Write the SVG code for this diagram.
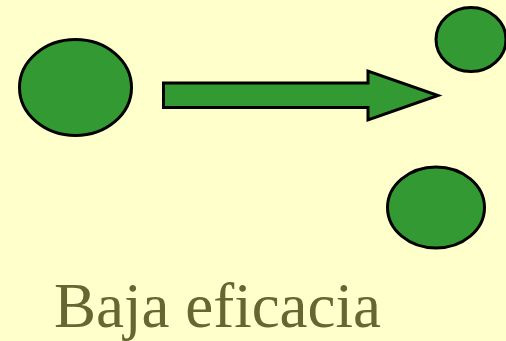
<svg xmlns="http://www.w3.org/2000/svg" width="506" height="341" viewBox="0 0 506 341">
<style>
.n{fill:#339933;stroke:#000;stroke-width:3}
.t{font-family:"Liberation Serif",serif;font-size:63px;fill:#666633}
</style>
<rect width="506" height="341" fill="#FFFFCC"/>
<g id="left"><ellipse class="n" cx="75.5" cy="87.5" rx="56" ry="48"/></g>
<g id="topright"><ellipse class="n" cx="471" cy="39.5" rx="35" ry="32"/></g>
<g id="bottomright"><ellipse class="n" cx="436" cy="207.5" rx="48.5" ry="40.5"/></g>
<g id="connectors"><polygon class="n" points="163.5,83 368,83 368,71 438,95.5 368,120 368,107.5 163.5,107.5"/></g>
<text class="t" x="54" y="327">Baja eficacia</text>
</svg>
